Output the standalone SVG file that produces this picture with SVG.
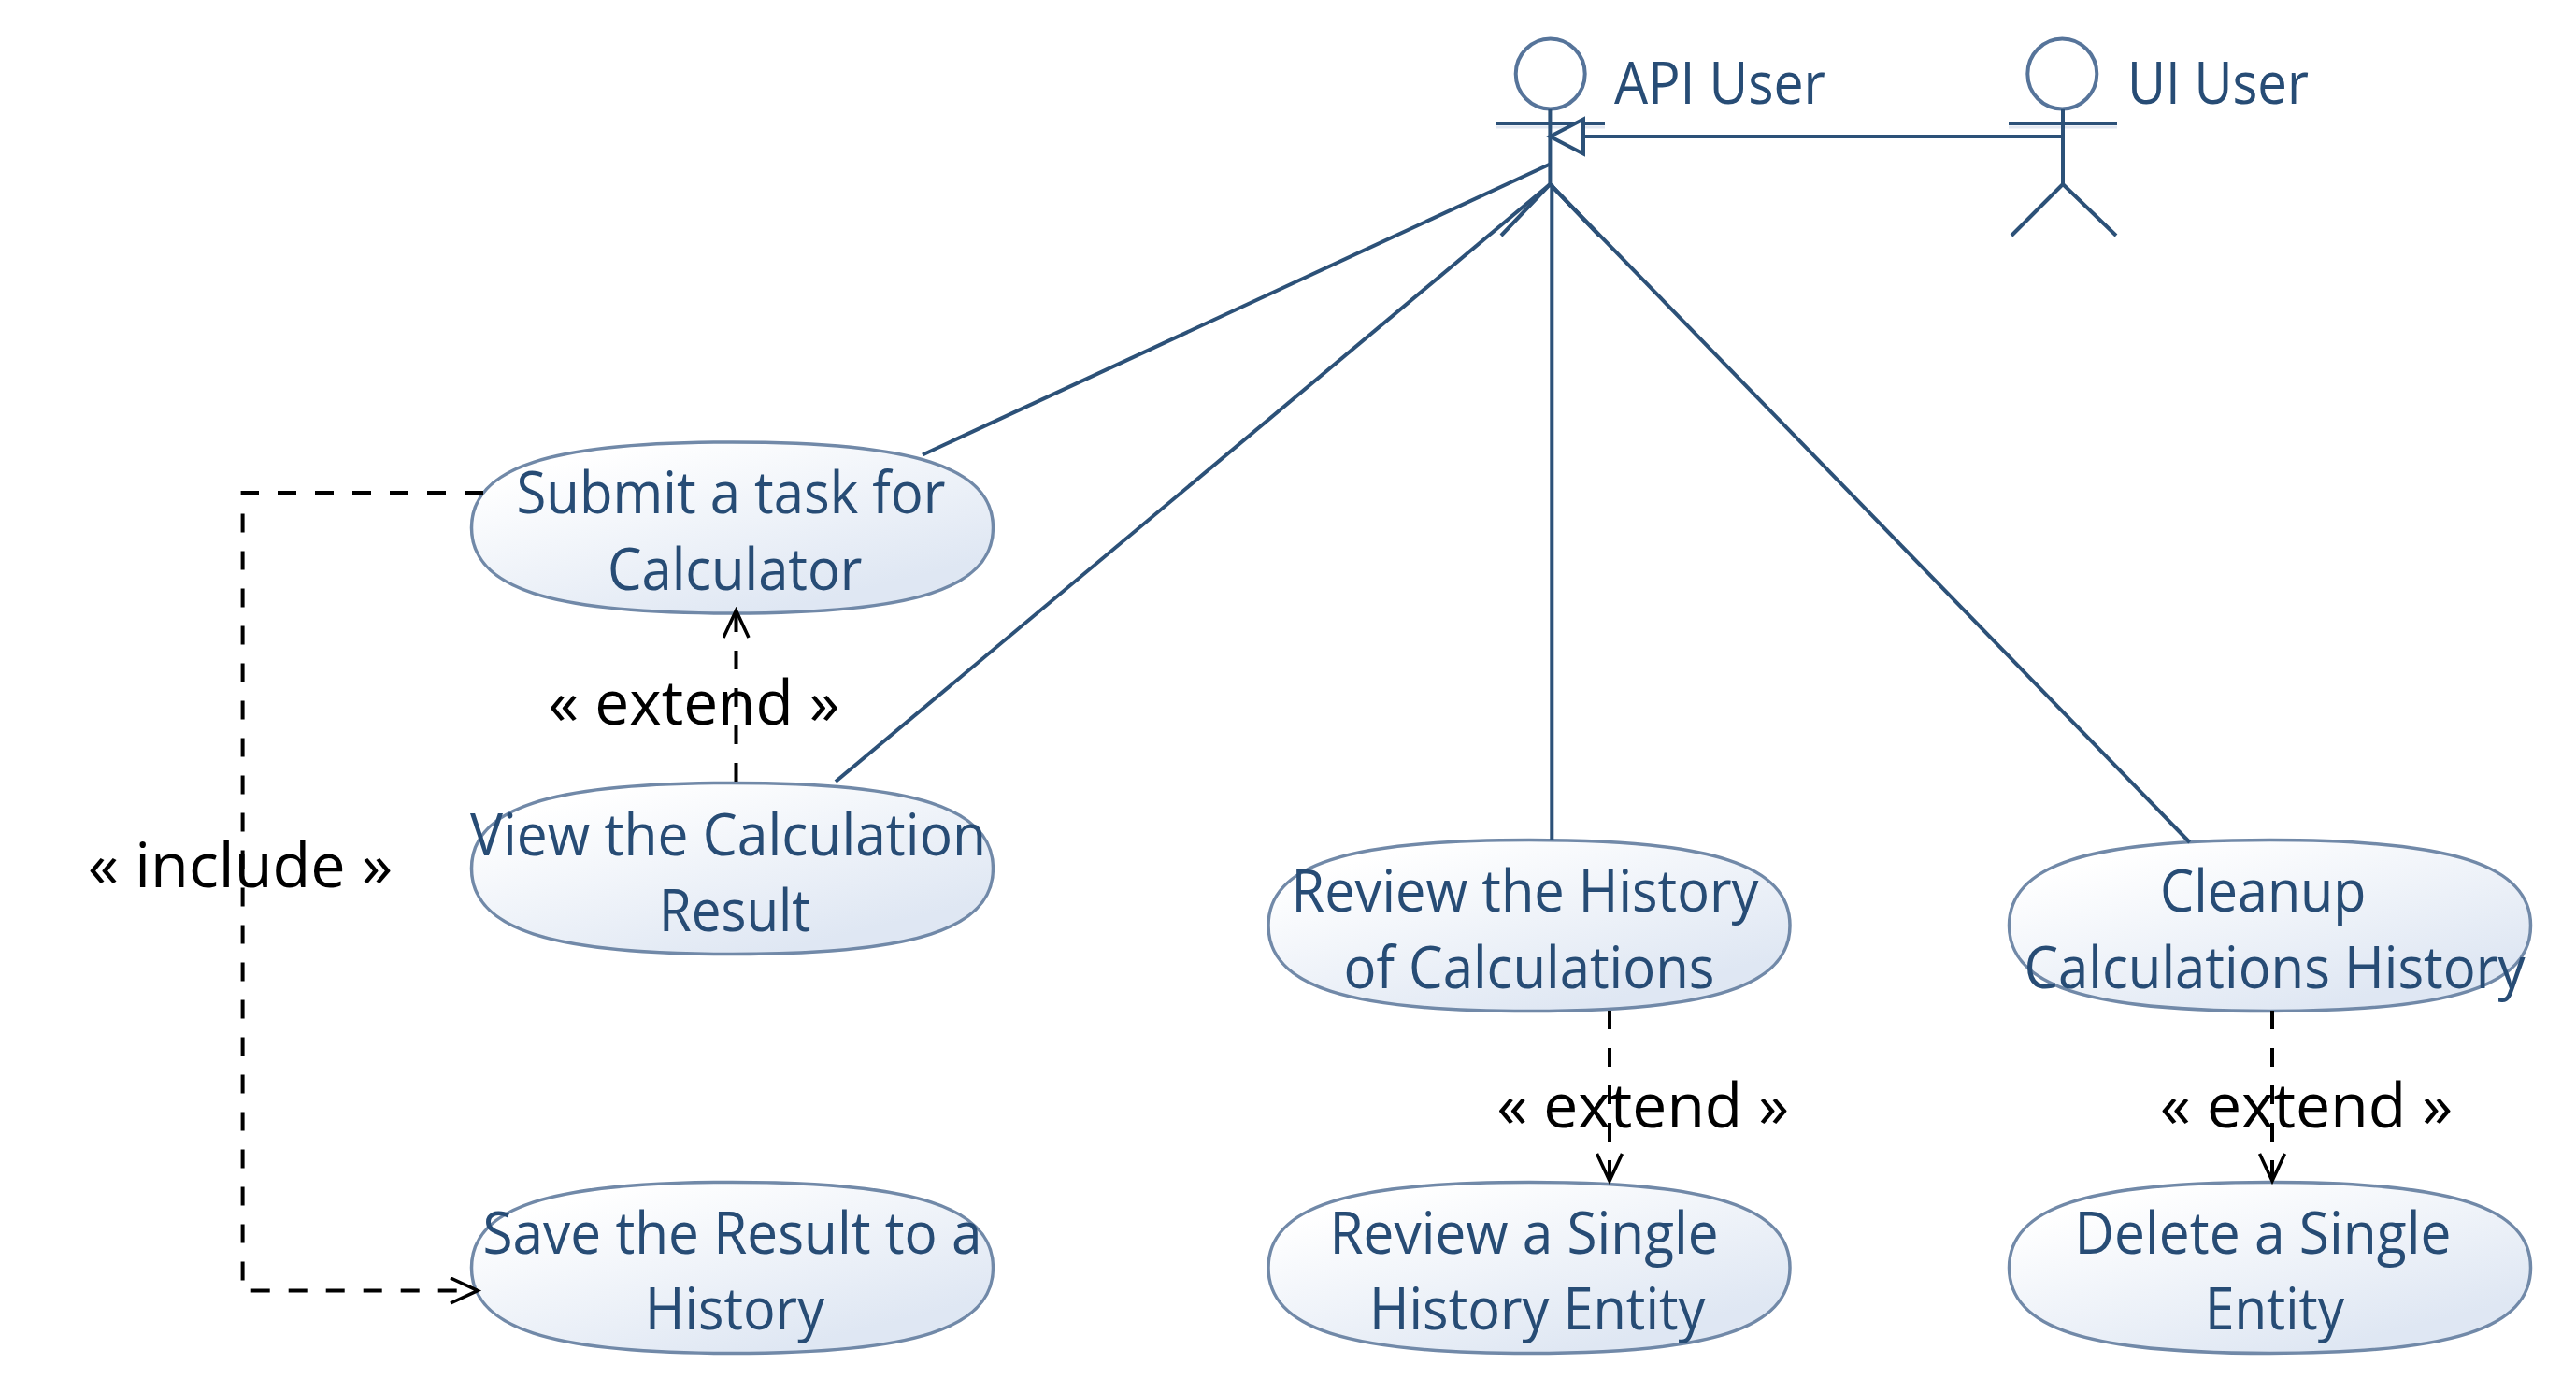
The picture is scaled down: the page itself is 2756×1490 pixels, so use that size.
<svg xmlns="http://www.w3.org/2000/svg" width="2756" height="1490" viewBox="0 0 2756 1490">
<style>
.bg{fill:#fff}
.uc{fill:url(#ucfill);stroke:#7189a8;stroke-width:3.5}
.t{font-family:"Open Sans","Noto Sans","Liberation Sans",sans-serif;font-size:62px;fill:#274c75}
.l{font-family:"Open Sans","Noto Sans","Liberation Sans",sans-serif;font-size:66px;fill:#000}
.a{fill:none;stroke:#2c5178;stroke-width:4}
.h{fill:#fff;stroke:#56749a;stroke-width:4}
.s{fill:none;stroke:#e2e7f1;stroke-width:3}
.c{fill:none;stroke:#2c5178;stroke-width:4}
.d{fill:none;stroke:#000;stroke-width:4;stroke-dasharray:20 20}
</style>
<defs>
<linearGradient id="ucfill" x1="0.12" y1="0" x2="0.88" y2="1">
<stop offset="0.1" stop-color="#ffffff"/><stop offset="0.85" stop-color="#dfe7f3"/>
</linearGradient>
<path id="ucs" class="uc" d="M-279,0C-279,-65 -195,-91.5 0,-91.5C195,-91.5 279,-65 279,0C279,65 195,91.5 0,91.5C-195,91.5 -279,65 -279,0Z"/>
<marker id="open" markerUnits="userSpaceOnUse" markerWidth="40" markerHeight="40" refX="30" refY="15" orient="auto" viewBox="0 0 40 40">
<path d="M1,1.5L30,15L1,28.5" fill="none" stroke="#000" stroke-width="3.5"/>
</marker>
</defs>
<rect class="bg" width="2756" height="1490"/>
<g id="actor-api-user">
<ellipse class="h" cx="1658.7" cy="79" rx="37" ry="37.5"/>
<path class="s" d="M1601,136H1717"/>
<path class="a" d="M1658.4,117V197M1601,132H1717M1658.4,197L1606,252M1658.4,197L1711,252"/>
<text class="t" x="1727" y="111" textLength="226" lengthAdjust="spacingAndGlyphs">API User</text>
</g>
<g id="actor-ui-user">
<ellipse class="h" cx="2206.3" cy="79" rx="37" ry="37.5"/>
<path class="s" d="M2149,136H2265"/>
<path class="a" d="M2207,117V197M2149,132H2265M2207,197L2152,252M2207,197L2264,252"/>
<text class="t" x="2276" y="111" textLength="194" lengthAdjust="spacingAndGlyphs">UI User</text>
</g>
<g id="uc-submit">
<use href="#ucs" x="783.5" y="564.5"/>
<text class="t" x="552.5" y="549" textLength="459" lengthAdjust="spacingAndGlyphs">Submit a task for</text>
<text class="t" x="650" y="630.5" textLength="272.5" lengthAdjust="spacingAndGlyphs">Calculator</text>
</g>
<g id="uc-view">
<use href="#ucs" x="783.5" y="929"/>
<text class="t" x="503" y="915" textLength="552" lengthAdjust="spacingAndGlyphs">View the Calculation</text>
<text class="t" x="705" y="996" textLength="162.5" lengthAdjust="spacingAndGlyphs">Result</text>
</g>
<g id="uc-save">
<use href="#ucs" x="783.5" y="1356"/>
<text class="t" x="516.5" y="1340.5" textLength="534" lengthAdjust="spacingAndGlyphs">Save the Result to a</text>
<text class="t" x="690" y="1421.5" textLength="192" lengthAdjust="spacingAndGlyphs">History</text>
</g>
<g id="uc-review-history">
<use href="#ucs" x="1636" y="990"/>
<text class="t" x="1381.5" y="975" textLength="500" lengthAdjust="spacingAndGlyphs">Review the History</text>
<text class="t" x="1437.5" y="1056.5" textLength="397" lengthAdjust="spacingAndGlyphs">of Calculations</text>
</g>
<g id="uc-cleanup">
<use href="#ucs" x="2428.5" y="990"/>
<text class="t" x="2311" y="975" textLength="220.5" lengthAdjust="spacingAndGlyphs">Cleanup</text>
<text class="t" x="2165.5" y="1056.5" textLength="536" lengthAdjust="spacingAndGlyphs">Calculations History</text>
</g>
<g id="uc-review-single">
<use href="#ucs" x="1636" y="1356"/>
<text class="t" x="1422.5" y="1340.5" textLength="416" lengthAdjust="spacingAndGlyphs">Review a Single</text>
<text class="t" x="1465" y="1421.5" textLength="359.5" lengthAdjust="spacingAndGlyphs">History Entity</text>
</g>
<g id="uc-delete-single">
<use href="#ucs" x="2428.5" y="1356"/>
<text class="t" x="2219.5" y="1340.5" textLength="403" lengthAdjust="spacingAndGlyphs">Delete a Single</text>
<text class="t" x="2359" y="1421.5" textLength="149" lengthAdjust="spacingAndGlyphs">Entity</text>
</g>
<g id="connectors">
<path class="c" d="M1658.4,175.5L987,486.5"/>
<path class="c" d="M1658.4,197L894,836"/>
<path class="c" d="M1660.3,197V898"/>
<path class="c" d="M1658.4,197L2342.7,901"/>
<path class="c" d="M2207,146H1694"/>
<path d="M1694,127.5V164.5L1658.4,146Z" fill="#fff" stroke="#2c5178" stroke-width="4"/>
<path class="d" d="M517,527H259.6V1380.5H511" marker-end="url(#open)"/>
<path class="d" d="M787.5,836V653" marker-end="url(#open)"/>
<path class="d" d="M1722,1081V1263" marker-end="url(#open)"/>
<path class="d" d="M2431,1081V1263" marker-end="url(#open)"/>
<text class="l" x="586.5" y="775" textLength="312" lengthAdjust="spacingAndGlyphs">« extend »</text>
<text class="l" x="94" y="949" textLength="326" lengthAdjust="spacingAndGlyphs">« include »</text>
<text class="l" x="1601.5" y="1206" textLength="312.5" lengthAdjust="spacingAndGlyphs">« extend »</text>
<text class="l" x="2311" y="1206" textLength="313" lengthAdjust="spacingAndGlyphs">« extend »</text>
</g>
</svg>
